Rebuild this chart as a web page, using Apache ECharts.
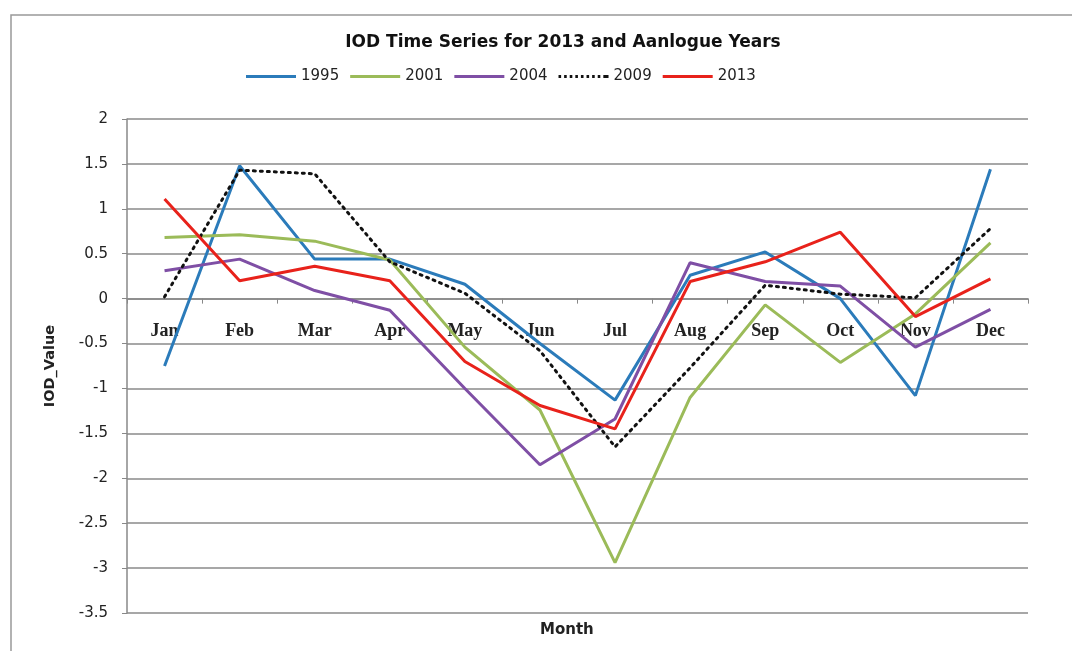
<!DOCTYPE html>
<html>
<head>
<meta charset="utf-8">
<script src="https://cdn.jsdelivr.net/npm/echarts@6/dist/echarts.min.js"></script>
<style>html,body{margin:0;padding:0;background:#fff}#c{width:1072px;height:651px}</style>
</head>
<body>
<div id="c"></div>
<script>
const months = ['Jan','Feb','Mar','Apr','May','Jun','Jul','Aug','Sep','Oct','Nov','Dec'];
const s1995 = [-0.75, 1.48, 0.44, 0.44, 0.16, -0.50, -1.13, 0.26, 0.52, 0.00, -1.08, 1.44];
const s2001 = [0.68, 0.71, 0.64, 0.43, -0.54, -1.24, -2.94, -1.10, -0.07, -0.71, -0.17, 0.62];
const s2004 = [0.31, 0.44, 0.09, -0.13, -1.00, -1.85, -1.34, 0.40, 0.19, 0.14, -0.54, -0.12];
const s2009 = [0.02, 1.43, 1.39, 0.41, 0.06, -0.58, -1.65, -0.77, 0.15, 0.05, 0.01, 0.78];
const s2013 = [1.11, 0.20, 0.36, 0.20, -0.70, -1.19, -1.45, 0.19, 0.41, 0.74, -0.20, 0.22];
const yMin = -3.5, yMax = 2, yStep = 0.5;

const gridTop = 119, gridBottom = 38, chartH = 651;
const gridH = chartH - gridTop - gridBottom;
// move the category axis up so it sits on the zero line (Excel style)
const zeroOffset = -gridH * (0 - yMin) / (yMax - yMin);

const solidIcon = 'path://M0,0h50v3h-50z';
let dots = '';
for (let i = 0; i < 9; i++) { dots += 'M' + (i * 5.6) + ',0h2.6v3h-2.6z'; }
const dottedIcon = 'path://' + dots + 'M47.4,0h2.6v3h-2.6z';

const chart = echarts.init(document.getElementById('c'));
function mk(name, data, color, type) {
  return {
    name: name, type: 'line', data: data, symbol: 'none', smooth: false,
    lineStyle: {color: color, width: 3, type: type || 'solid', cap: type ? 'round' : 'butt'},
    itemStyle: {color: color},
    emphasis: {disabled: true}
  };
}
chart.setOption({
  animation: false,
  backgroundColor: '#fff',
  title: {
    text: 'IOD Time Series for 2013 and Aanlogue Years',
    left: 558, top: 29, textAlign: 'center',
    textStyle: {fontFamily: 'DejaVu Sans, sans-serif', fontSize: 17, fontWeight: 'bold', color: '#111'}
  },
  legend: {
    top: 64, left: 241, itemGap: 11, itemWidth: 50, itemHeight: 3,
    textStyle: {fontFamily: 'DejaVu Sans, sans-serif', fontSize: 15, color: '#222'},
    data: [
      {name: '1995', icon: solidIcon},
      {name: '2001', icon: solidIcon},
      {name: '2004', icon: solidIcon},
      {name: '2009', icon: dottedIcon},
      {name: '2013', icon: solidIcon}
    ]
  },
  grid: {left: 127, right: 44, top: gridTop, bottom: gridBottom},
  graphic: [
    {type: 'rect', shape: {x: 11, y: 15, width: 1100, height: 700}, style: {fill: 'none', stroke: '#999', lineWidth: 1.5}, silent: true, z: -1},
    {type: 'text', left: 540, top: 623, style: {text: 'Month', font: 'bold 15px "DejaVu Sans", sans-serif', fill: '#222'}}
  ],
  xAxis: {
    type: 'category', data: months, boundaryGap: true,
    position: 'bottom', offset: zeroOffset,
    axisLine: {onZero: false, lineStyle: {color: '#888', width: 1.5}},
    axisTick: {show: true, alignWithLabel: false, length: 5, lineStyle: {color: '#888'}},
    axisLabel: {interval: 0, margin: 24, fontFamily: 'Liberation Serif, serif', fontWeight: 'bold', fontSize: 18, color: '#222'},
    splitLine: {show: false}
  },
  yAxis: {
    type: 'value', min: yMin, max: yMax, interval: yStep,
    name: 'IOD_Value', nameLocation: 'middle', nameGap: 69, nameRotate: 90,
    nameTextStyle: {fontFamily: 'DejaVu Sans, sans-serif', fontSize: 14.5, fontWeight: 'bold', color: '#222'},
    axisLine: {show: true, lineStyle: {color: '#888', width: 1.5}},
    axisTick: {show: true, length: 5, lineStyle: {color: '#888'}},
    axisLabel: {margin: 19, fontFamily: 'DejaVu Sans, sans-serif', fontSize: 15, color: '#222'},
    splitLine: {show: true, lineStyle: {color: '#8a8a8a', width: 1.5}}
  },
  series: [
    mk('1995', s1995, '#2b7bba'),
    mk('2001', s2001, '#9bbb59'),
    mk('2004', s2004, '#7f4fa5'),
    mk('2009', s2009, '#111', [2, 5]),
    mk('2013', s2013, '#e8221b')
  ]
});
</script>
</body>
</html>
